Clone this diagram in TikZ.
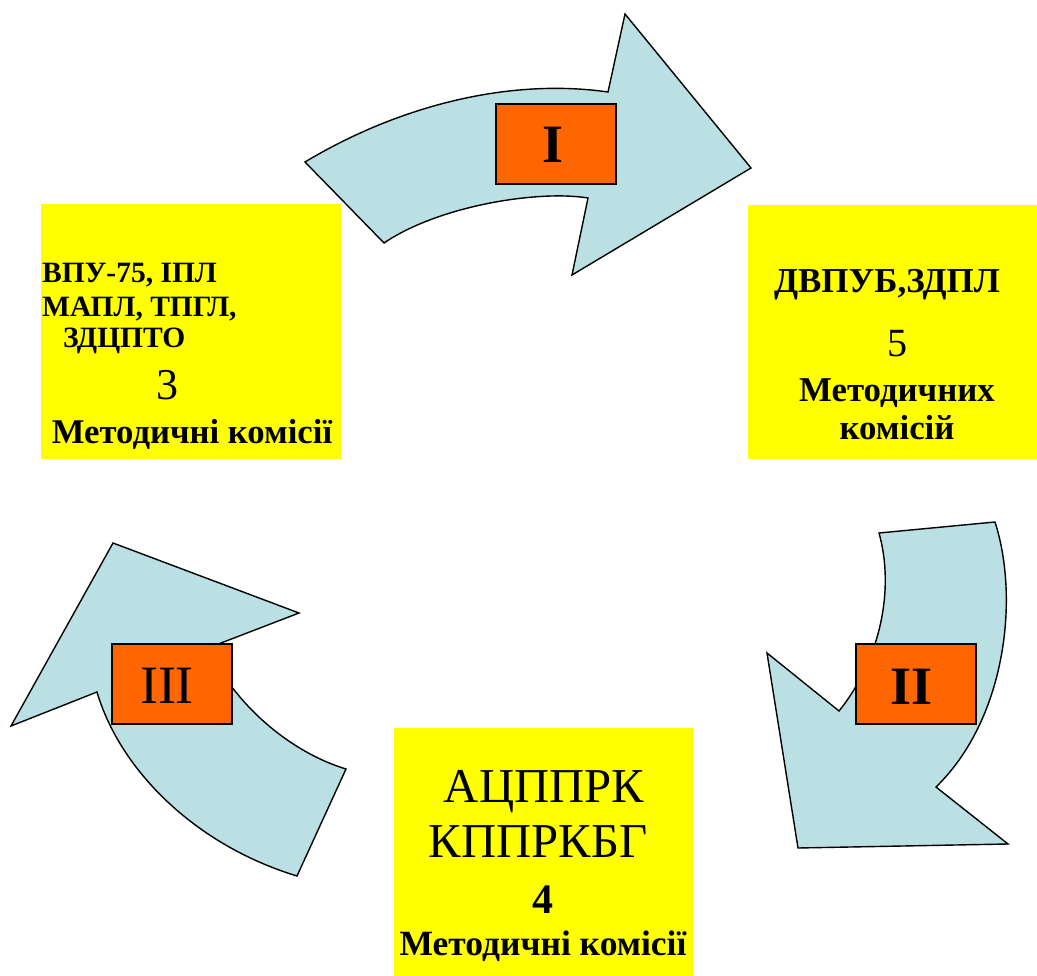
\documentclass[tikz,border=0pt]{standalone}
\usepackage{fontspec}
\setmainfont{Liberation Serif}
\definecolor{arrowfill}{RGB}{187,224,227}
\definecolor{tagfill}{RGB}{255,102,0}
\definecolor{boxfill}{RGB}{255,255,0}
\tikzset{
  bigarrow/.style={draw=black, line width=1.4pt, fill=arrowfill, line join=miter},
  tagbox/.style={draw=black, line width=1.4pt, fill=tagfill},
  ybox/.style={fill=boxfill, draw=none},
  txt/.style={inner sep=0pt, anchor=base},
  txtw/.style={inner sep=0pt, anchor=base west},
}
\newcommand{\fs}[1]{\fontsize{#1}{#1}\selectfont}
\begin{document}
\begin{tikzpicture}[x=1pt,y=-1pt]
\useasboundingbox (0,0) rectangle (1037,976);
% yellow boxes
\fill[ybox] (41,204) rectangle (341,459);
\fill[ybox] (748,205) rectangle (1037,459);
\fill[ybox] (394,728) rectangle (693,976);
% Arrow I
\draw[bigarrow] (305,162) .. controls (400,105) and (510,78) .. (608,92)
  -- (625,14) -- (751,168) -- (572,275) -- (588,198)
  .. controls (540,190) and (440,205) .. (384,243) -- cycle;
% Arrow II
\draw[bigarrow] (879,533) -- (995,522) .. controls (1020,600) and (1005,720) .. (936,787)
  -- (1008,844) -- (798,848) -- (767,653) -- (839,711)
  .. controls (880,660) and (895,590) .. (879,533) -- cycle;
% Arrow III
\draw[bigarrow] (346,769) -- (297,876) .. controls (195,845) and (120,770) .. (97,692)
  -- (11,726) -- (113,543) -- (299,613) -- (208,648)
  .. controls (235,705) and (290,752) .. (346,769) -- cycle;
% tag boxes
\node[tagbox, minimum width=120pt, minimum height=80pt, inner sep=0pt] (t1) at (556,144) {};
\node[tagbox, minimum width=120pt, minimum height=80pt, inner sep=0pt] (t2) at (916,684) {};
\node[tagbox, minimum width=120pt, minimum height=80pt, inner sep=0pt] (t3) at (172,684) {};
\node[txt] (r1) at (553,163) {\fs{54}\bfseries I};
\node[txt] (r2) at (912,704) {\fs{54}\bfseries II};
\node[txt] (r3) at (167,703) {\fs{54}III};
% left box text
\node[txtw] (l1) at (42,283) {\fs{29.5}\bfseries ВПУ-75, ІПЛ};
\node[txtw] (l2) at (42,317) {\fs{29.5}\bfseries МАПЛ, ТПГЛ,};
\node[txtw] (l3) at (63,348) {\fs{29.5}\bfseries ЗДЦПТО};
\node[txt] (l4) at (167,400) {\fs{44}3};
\node[txt] (l5) at (192,443) {\fs{34.7}\bfseries Методичні комісії};
% right box text
\node[txt] (p1) at (887,293) {\fs{35}\bfseries ДВПУБ,ЗДПЛ};
\node[txt] (p2) at (897,357) {\fs{40}5};
\node[txt] (p3) at (897,402) {\fs{34.8}\bfseries Методичних};
\node[txt] (p4) at (897,439) {\fs{34.8}\bfseries комісій};
% bottom box text
\node[txt] (b1) at (544,802) {\fs{48.7}АЦППРК};
\node[txt] (b2) at (538,857) {\fs{48.7}КППРКБГ};
\node[txt] (b3) at (543,913) {\fs{42}\bfseries 4};
\node[txt] (b4) at (543,955) {\fs{35.5}\bfseries Методичні комісії};
\end{tikzpicture}
\end{document}
